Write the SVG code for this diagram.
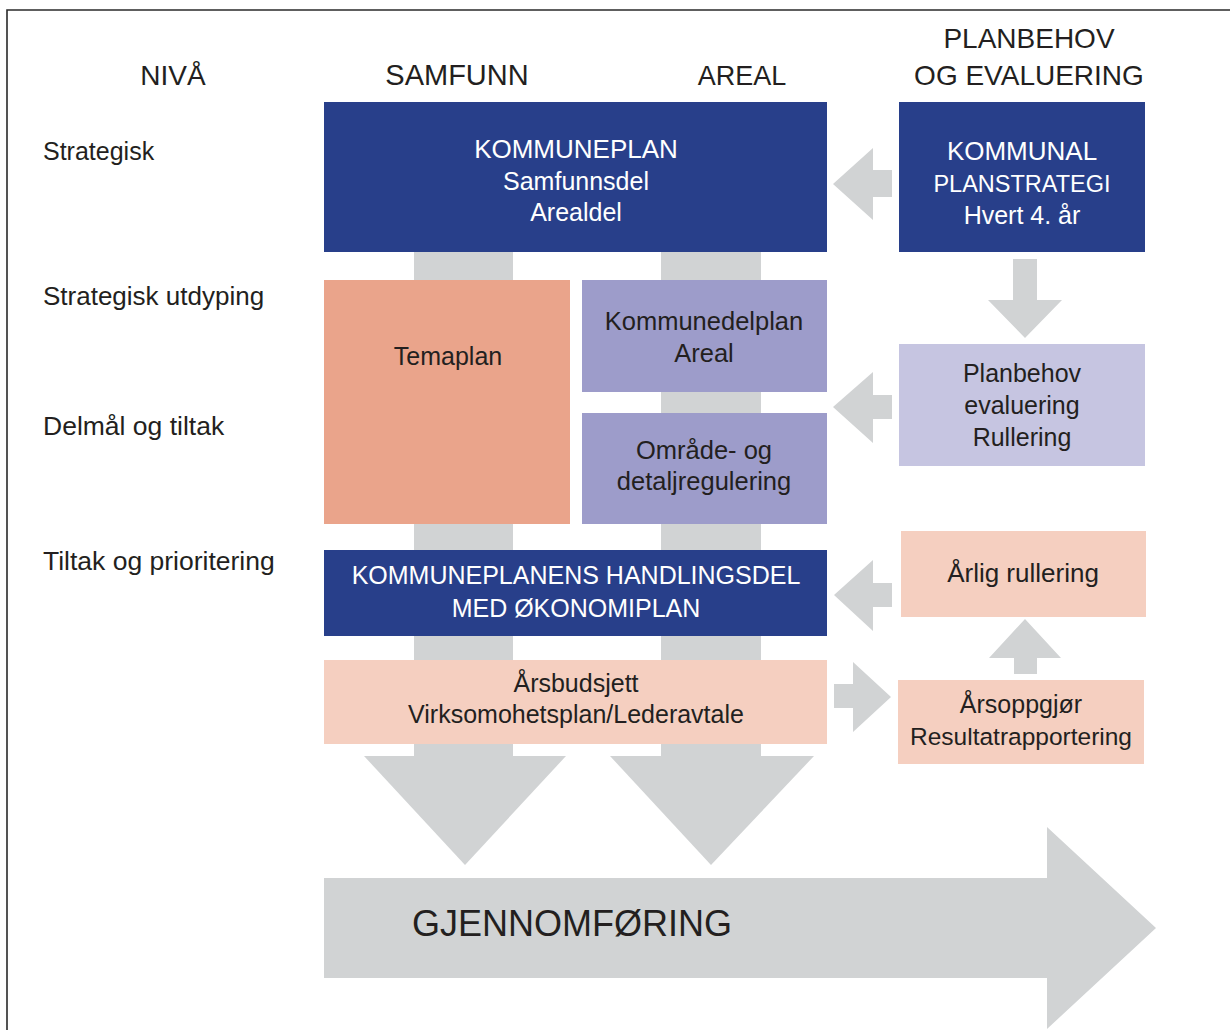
<svg xmlns="http://www.w3.org/2000/svg" width="1230" height="1030" viewBox="0 0 1230 1030">
<style>
  .t { font-family: "Liberation Sans", Arial, sans-serif; fill: #231f20; }
  .w { font-family: "Liberation Sans", Arial, sans-serif; fill: #ffffff; }
  .c { text-anchor: middle; }
  .blue { fill: #283f8a; }
  .salmon { fill: #eaa48b; }
  .lav { fill: #9d9cca; }
  .lavl { fill: #c6c5e1; }
  .pink { fill: #f5cfc0; }
  .arr { fill: #d1d3d4; }
</style>
<rect x="0" y="0" width="1230" height="1030" fill="#ffffff"/>
<path d="M7,1030 V10 H1230" fill="none" stroke="#2a2a2a" stroke-width="1.6"/>

<g id="headers">
  <text class="t c" x="173" y="85" font-size="28">NIVÅ</text>
  <text class="t c" x="457" y="85" font-size="29">SAMFUNN</text>
  <text class="t c" x="742" y="85" font-size="27">AREAL</text>
  <text class="t c" x="1029" y="48" font-size="28">PLANBEHOV</text>
  <text class="t c" x="1029" y="85" font-size="28">OG EVALUERING</text>
</g>
<g id="levels">
  <text class="t" x="43" y="160" font-size="25">Strategisk</text>
  <text class="t" x="43" y="305" font-size="26">Strategisk utdyping</text>
  <text class="t" x="43" y="435" font-size="26.5">Delmål og tiltak</text>
  <text class="t" x="43" y="570" font-size="26.5">Tiltak og prioritering</text>
</g>

<g id="connectors">
  <rect class="arr" x="414" y="250" width="99" height="508"/>
  <rect class="arr" x="661" y="250" width="100" height="508"/>
  <polygon class="arr" points="364,756 566,756 465,865"/>
  <polygon class="arr" points="610,756 814,756 711,865"/>
  <polygon class="arr" points="892,170 873,170 873,148 833,184 873,220 873,197 892,197"/>
  <polygon class="arr" points="1013,259 1037,259 1037,300 1062,300 1025,338 988,300 1013,300"/>
  <polygon class="arr" points="892,395 873,395 873,372 833,407 873,443 873,419 892,419"/>
  <polygon class="arr" points="892,583 873,583 873,560 834,595 873,631 873,607 892,607"/>
  <polygon class="arr" points="834,684 853,684 853,662 891,697 853,732 853,708 834,708"/>
  <polygon class="arr" points="1014,674 1037,674 1037,658 1061,658 1025,619 989,658 1014,658"/>
  <polygon class="arr" points="324,878 1047,878 1047,827 1156,928 1047,1029 1047,978 324,978"/>
</g>

<g id="kommuneplan">
  <rect class="blue" x="324" y="102" width="503" height="150"/>
  <text class="w c" x="576" y="158" font-size="26">KOMMUNEPLAN</text>
  <text class="w c" x="576" y="190" font-size="25">Samfunnsdel</text>
  <text class="w c" x="576" y="221" font-size="25">Arealdel</text>
</g>
<g id="planstrategi">
  <rect class="blue" x="899" y="102" width="246" height="150"/>
  <text class="w c" x="1022" y="160" font-size="26">KOMMUNAL</text>
  <text class="w c" x="1022" y="192" font-size="23.5">PLANSTRATEGI</text>
  <text class="w c" x="1022" y="224" font-size="25">Hvert 4. år</text>
</g>
<g id="temaplan">
  <rect class="salmon" x="324" y="280" width="246" height="244"/>
  <text class="t c" x="448" y="365" font-size="25">Temaplan</text>
</g>
<g id="kommunedelplan">
  <rect class="lav" x="582" y="280" width="245" height="112"/>
  <text class="t c" x="704" y="330" font-size="25.5">Kommunedelplan</text>
  <text class="t c" x="704" y="362" font-size="25.5">Areal</text>
</g>
<g id="omrade">
  <rect class="lav" x="582" y="413" width="245" height="111"/>
  <text class="t c" x="704" y="459" font-size="25.5">Område- og</text>
  <text class="t c" x="704" y="490" font-size="25.5">detaljregulering</text>
</g>
<g id="planbehov">
  <rect class="lavl" x="899" y="344" width="246" height="122"/>
  <text class="t c" x="1022" y="382" font-size="25">Planbehov</text>
  <text class="t c" x="1022" y="414" font-size="25">evaluering</text>
  <text class="t c" x="1022" y="446" font-size="25">Rullering</text>
</g>
<g id="handlingsdel">
  <rect class="blue" x="324" y="550" width="503" height="86"/>
  <text class="w c" x="576" y="584" font-size="25">KOMMUNEPLANENS HANDLINGSDEL</text>
  <text class="w c" x="576" y="617" font-size="25">MED ØKONOMIPLAN</text>
</g>
<g id="arlig">
  <rect class="pink" x="901" y="531" width="245" height="86"/>
  <text class="t c" x="1023" y="582" font-size="26">Årlig rullering</text>
</g>
<g id="arsbudsjett">
  <rect class="pink" x="324" y="660" width="503" height="84"/>
  <text class="t c" x="576" y="692" font-size="25">Årsbudsjett</text>
  <text class="t c" x="576" y="723" font-size="25">Virksomohetsplan/Lederavtale</text>
</g>
<g id="arsoppgjor">
  <rect class="pink" x="898" y="680" width="246" height="84"/>
  <text class="t c" x="1021" y="713" font-size="25">Årsoppgjør</text>
  <text class="t c" x="1021" y="745" font-size="24.5">Resultatrapportering</text>
</g>
<g id="gjennomforing">
  <text class="t" x="412" y="936" font-size="36">GJENNOMFØRING</text>
</g>
</svg>
